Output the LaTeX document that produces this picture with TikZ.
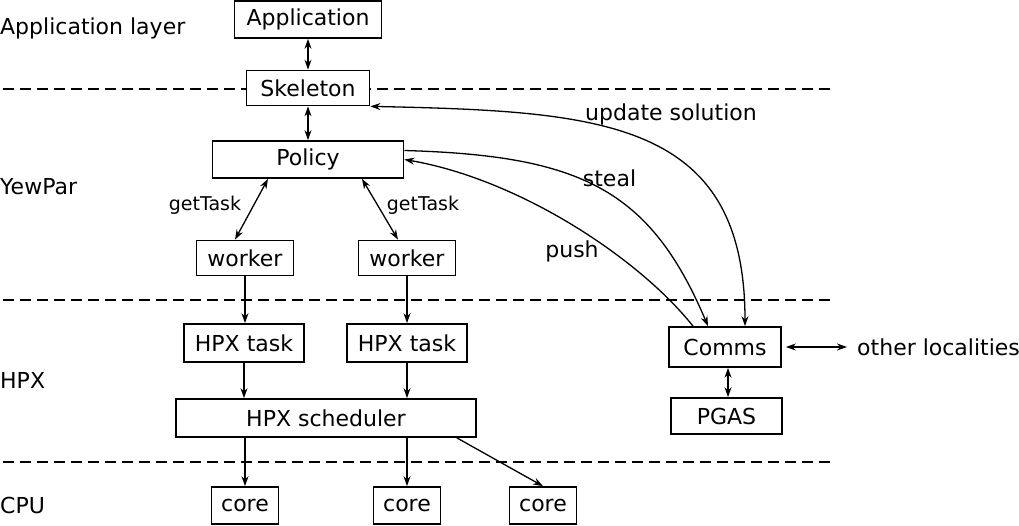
\documentclass[tikz,border=0pt]{standalone}
\usepackage{fontspec}
\setmainfont{DejaVu Sans}
\usetikzlibrary{arrows.meta}
\tikzset{>={Stealth[length=10pt,width=7pt]}}
\tikzset{
  block/.style={draw, line width=1.7pt, fill=white, inner sep=0pt,
    minimum height=37pt, font=\fontsize{22}{26}\selectfont},
  tag/.style={inner sep=0pt, font=\fontsize{22}{26}\selectfont},
  small tag/.style={inner sep=0pt, font=\fontsize{19}{23}\selectfont},
  link/.style={line width=1.3pt},
  divider/.style={line width=1.5pt, dash pattern=on 11pt off 6pt}
}

\begin{document}
\begin{tikzpicture}[x=1pt,y=-1pt]
    \useasboundingbox (0,0) rectangle (1019,525);
    % layer boundaries
    \foreach \y in {89,300,462}
        \draw[divider] (3,\y) -- (832,\y);

    \node[tag, anchor=west] (lapp) at (0,28) {Application layer};
    \node[tag, anchor=west] (lyew) at (0,187) {YewPar};
    \node[tag, anchor=west] (lhpx) at (0,380) {HPX};
    \node[tag, anchor=west] (lcpu) at (0,505) {CPU};

    \node[block, minimum width=147pt] (app) at (308,19.5) {Application};
    \node[block, minimum width=123pt, minimum height=35pt] (skel) at (308,88) {Skeleton};
    \node[block, minimum width=191pt] (policy) at (308,159.5) {Policy};
    \node[block, minimum width=97pt, minimum height=35pt] (w1) at (245,258) {worker};
    \node[block, minimum width=97pt, minimum height=35pt] (w2) at (407,258) {worker};
    \node[block, minimum width=120pt, minimum height=38pt] (t1) at (244,343) {HPX task};
    \node[block, minimum width=120pt, minimum height=38pt] (t2) at (407,343) {HPX task};
    \node[block, minimum width=300pt, minimum height=38pt] (sched) at (326,418) {HPX scheduler};
    \node[block, minimum width=67pt] (c1) at (245,505.5) {core};
    \node[block, minimum width=67pt] (c2) at (407,505.5) {core};
    \node[block, minimum width=67pt] (c3) at (543,505.5) {core};
    \node[block, minimum width=112pt, minimum height=40pt] (comms) at (725,347) {Comms};
    \node[block, minimum width=111pt, minimum height=36pt] (pgas) at (726.5,416) {PGAS};
    \node[tag, anchor=west] (other) at (857,347) {other localities};

    \node[small tag] (get1) at (205,205) {getTask};
    \node[small tag] (get2) at (423,205) {getTask};
    \node[tag] (upd) at (671,114) {update solution};
    \node[tag] (steal) at (609.5,178) {steal};
    \node[tag] (push) at (572,251) {push};

    \draw[link,<->] (app) -- (skel);
    \draw[link,<->] (skel) -- (policy);
    \draw[link,<->] ([xshift=-40pt]policy.south) -- ([xshift=-10pt]w1.north);
    \draw[link,<->] ([xshift=54pt]policy.south) -- ([xshift=-9pt]w2.north);
    \draw[link,->] (w1.south) -- (w1.south |- t1.north);
    \draw[link,->] (w2.south) -- (w2.south |- t2.north);
    \draw[link,->] (t1.south) -- (t1.south |- sched.north);
    \draw[link,->] (t2.south) -- (t2.south |- sched.north);
    \draw[link,->] (c1.north |- sched.south) -- (c1.north);
    \draw[link,->] (c2.north |- sched.south) -- (c2.north);
    \draw[link,->] ([xshift=-20pt]sched.south east) -- (c3.north);
    \draw[link,<->,shorten <=4pt,shorten >=10pt] (comms.east) -- (other.west);
    \draw[link,<->] ([xshift=3pt]comms.south) -- ([xshift=3pt]comms.south |- pgas.north);

    % messages between Comms and the policy
    \draw[link,<->] (skel.south east) .. controls +(230,5) and +(0,-207) .. ([xshift=20pt]comms.north);
    \draw[link,->] ([yshift=9pt]policy.east) .. controls +(176,5) and +(-58,-137) .. ([xshift=-17pt]comms.north);
    \draw[link,->] ([xshift=-32pt]comms.north) .. controls +(-53,-67) and +(116,20) .. (policy.east);
\end{tikzpicture}
\end{document}
